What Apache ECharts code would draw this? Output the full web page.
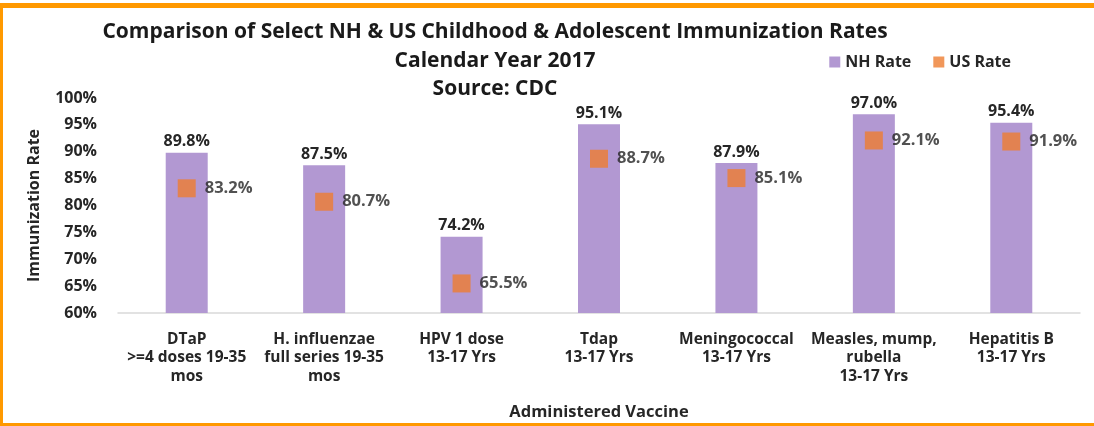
<!DOCTYPE html>
<html>
<head>
<meta charset="utf-8">
<script src="https://cdn.jsdelivr.net/npm/echarts@6/dist/echarts.min.js"></script>
<style>
html,body{margin:0;padding:0;background:#fff;}
#c{width:1094px;height:426px;}
</style>
</head>
<body>
<div id="c"></div>
<script>
const categories = [
  'DTaP\n>=4 doses 19-35\nmos',
  'H. influenzae\nfull series 19-35\nmos',
  'HPV 1 dose\n13-17 Yrs',
  'Tdap\n13-17 Yrs',
  'Meningococcal\n13-17 Yrs',
  'Measles, mump,\nrubella\n13-17 Yrs',
  'Hepatitis B\n13-17 Yrs'
];
const nhRate = [89.8, 87.5, 74.2, 95.1, 87.9, 97.0, 95.4];
const usRate = [83.2, 80.7, 65.5, 88.7, 85.1, 92.1, 91.9];
const titleText = 'Comparison of Select NH & US Childhood & Adolescent Immunization Rates\nCalendar Year 2017\nSource: CDC';

const FONT = '"Open Sans", Lato, sans-serif';
const chart = echarts.init(document.getElementById('c'));
chart.setOption({
  animation: false,
  textStyle: {fontFamily: FONT},
  graphic: [
    {type: 'rect', shape: {x: 0, y: 3, width: 1094, height: 5}, style: {fill: '#FF9900'}},
    {type: 'rect', shape: {x: 0, y: 3, width: 3, height: 423}, style: {fill: '#FF9900'}},
    {type: 'rect', shape: {x: 0, y: 423, width: 1094, height: 3}, style: {fill: '#FF9900'}}
  ],
  title: {
    text: titleText,
    left: 490,
    textAlign: 'center',
    top: 13,
    textStyle: {fontFamily: FONT, fontWeight: 'bold', fontSize: 21, lineHeight: 28.5, color: '#1a1a1a'}
  },
  legend: {
    right: 78,
    top: 49,
    itemWidth: 11,
    itemHeight: 11,
    itemGap: 22,
    itemStyle: {borderWidth: 0},
    textStyle: {fontFamily: FONT, fontWeight: 'bold', fontSize: 16, color: '#262626'},
    data: [{name: 'NH Rate', icon: 'rect'}, {name: 'US Rate', icon: 'rect'}]
  },
  grid: {left: 118, right: 14, top: 98, bottom: 109},
  xAxis: {
    type: 'category',
    data: categories,
    name: 'Administered Vaccine',
    nameLocation: 'middle',
    nameGap: 91,
    nameTextStyle: {fontFamily: FONT, fontWeight: 'bold', fontSize: 16.5, color: '#262626'},
    axisLine: {lineStyle: {color: '#d9d9d9', width: 1.5}},
    axisTick: {show: false},
    axisLabel: {interval: 0, fontFamily: FONT, fontWeight: 'bold', fontSize: 15.5, lineHeight: 18.5, color: '#262626', margin: 17}
  },
  yAxis: {
    type: 'value',
    min: 60, max: 100, interval: 5,
    name: 'Immunization Rate',
    nameLocation: 'middle',
    nameRotate: 90,
    nameGap: 76,
    nameTextStyle: {fontFamily: FONT, fontWeight: 'bold', fontSize: 16, color: '#262626'},
    axisLine: {show: false},
    axisTick: {show: false},
    splitLine: {show: false},
    axisLabel: {formatter: '{value}%', fontFamily: FONT, fontWeight: 'bold', fontSize: 16, color: '#262626', margin: 21}
  },
  series: [
    {
      name: 'NH Rate',
      type: 'bar',
      data: nhRate,
      barWidth: 42,
      itemStyle: {color: '#b298d2'},
      label: {show: true, position: 'top', distance: 3, formatter: p => p.value.toFixed(1) + '%',
        fontFamily: FONT, fontWeight: 'bold', fontSize: 16, color: '#262626'}
    },
    {
      name: 'US Rate',
      type: 'scatter',
      data: usRate,
      symbol: 'rect',
      symbolSize: 18,
      itemStyle: {color: '#ed7d31'},
      label: {show: true, position: 'right', distance: 9, formatter: p => p.value.toFixed(1) + '%',
        fontFamily: FONT, fontWeight: 'bold', fontSize: 16.5, color: '#262626'}
    }
  ]
});
</script>
</body>
</html>
